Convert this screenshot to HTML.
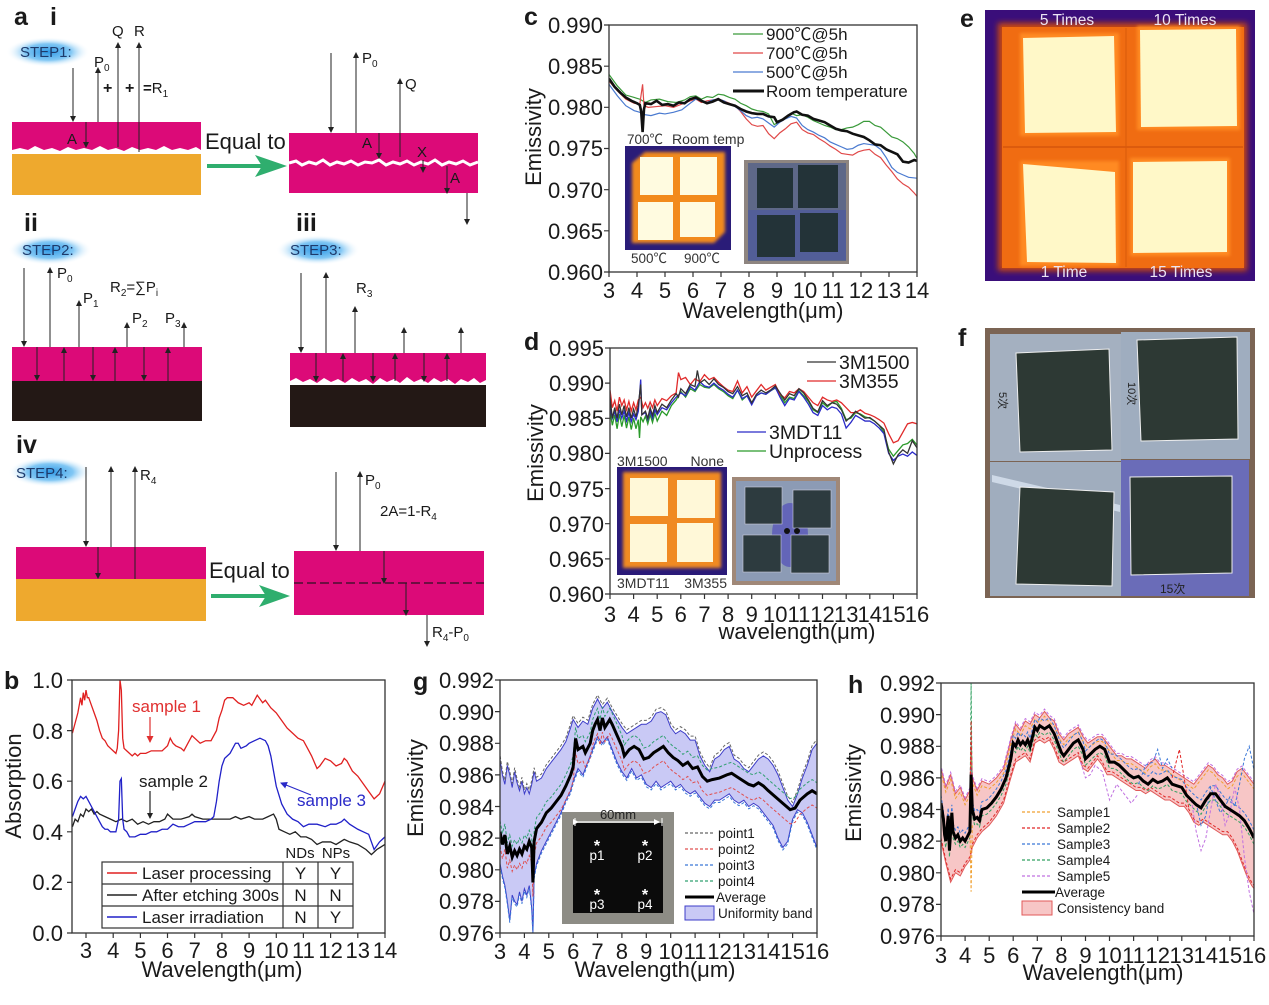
<!DOCTYPE html>
<html><head><meta charset="utf-8"><style>
html,body{margin:0;padding:0;background:#fff;}
svg{display:block;}
text{font-family:"Liberation Sans",Arial,"Noto Sans CJK SC",sans-serif;fill:#1a1a1a;}
</style></head><body>
<svg width="1269" height="1005" viewBox="0 0 1269 1005" xmlns="http://www.w3.org/2000/svg">
<defs>
<marker id="ah" markerWidth="6" markerHeight="6" refX="5" refY="3" orient="auto" markerUnits="userSpaceOnUse"><path d="M0,0 L6,3 L0,6 z" fill="#222"/></marker>
<marker id="ahR" markerWidth="7" markerHeight="7" refX="6" refY="3.5" orient="auto" markerUnits="userSpaceOnUse"><path d="M0,0 L7,3.5 L0,7 z" fill="#e03030"/></marker>
<marker id="ahB" markerWidth="7" markerHeight="7" refX="6" refY="3.5" orient="auto" markerUnits="userSpaceOnUse"><path d="M0,0 L7,3.5 L0,7 z" fill="#2a2ac8"/></marker>
<marker id="ahW" markerWidth="6" markerHeight="6" refX="5" refY="3" orient="auto" markerUnits="userSpaceOnUse"><path d="M0,0 L6,3 L0,6 z" fill="#fff"/></marker>
<radialGradient id="glow" cx="50%" cy="50%" r="50%">
<stop offset="0" stop-color="#2c98e6"/><stop offset="0.55" stop-color="#6bbdf2" stop-opacity="0.85"/><stop offset="1" stop-color="#ffffff" stop-opacity="0"/>
</radialGradient>
<filter id="bl3" x="-10%" y="-10%" width="120%" height="120%"><feGaussianBlur stdDeviation="3"/></filter>
<filter id="bl2" x="-10%" y="-10%" width="120%" height="120%"><feGaussianBlur stdDeviation="1.5"/></filter>
<clipPath id="cpg"><rect x="500" y="680" width="317" height="253"/></clipPath>
<clipPath id="cph"><rect x="941" y="683" width="313" height="253"/></clipPath>
<clipPath id="cpc"><rect x="609" y="25" width="308" height="247"/></clipPath>
<clipPath id="cpd"><rect x="610" y="348" width="307" height="246"/></clipPath>

<polyline id="gU" vector-effect="non-scaling-stroke" points="3,976 3,987 3.1,986 3.2,985.4 3.3,986.6 3.4,986.0 3.5,985.2 3.6,986.2 3.7,985.5 3.8,985.0 3.9,985.6 4.0,984.8 4.1,985.2 4.2,984.8 4.3,985.4 4.4,986.2 4.5,985.6 4.7,985.8 4.9,986.4 5.1,986.8 5.3,987.2 5.5,987.6 5.7,988.1 5.9,989.0 6.0,989.5 6.2,989.0 6.4,989.4 6.6,989.2 6.8,990.2 7.0,990.8 7.2,990.2 7.4,990.6 7.6,990.0 7.8,989.5 8.0,989.0 8.2,988.6 8.4,988.8 8.6,989.0 8.8,989.2 9.0,989.2 9.2,989.4 9.4,989.9 9.6,990.0 9.8,989.8 10.0,989.0 10.2,988.6 10.4,988.8 10.6,988.6 10.8,988.2 11.0,988.2 11.2,987.2 11.4,986.6 11.6,986.2 11.8,987.0 12.0,987.2 12.2,987.6 12.4,987.8 12.6,987.0 12.8,986.8 13.0,986.4 13.2,986.2 13.4,986.6 13.6,987.0 13.8,987.2 14.0,987.0 14.2,986.6 14.4,986.0 14.6,985.2 14.8,984.4 15.0,984.0 15.2,984.8 15.4,985.8 15.6,986.6 15.8,987.6 16,988.0 16,976"/>
<polyline id="gL" vector-effect="non-scaling-stroke" points="3,976 3,980.4 3.1,979.6 3.2,979.0 3.3,978.0 3.4,976.8 3.5,978.4 3.6,978.0 3.7,977.8 3.8,978.6 3.9,978.0 4.0,978.8 4.1,978.4 4.2,979.0 4.3,977.6 4.35,976.0 4.4,979.6 4.5,980.4 4.7,981.2 4.9,981.8 5.1,982.4 5.3,983.0 5.5,983.6 5.7,984.4 5.9,985.0 6.0,985.6 6.2,986.4 6.4,986.0 6.6,986.8 6.8,987.6 7.0,988.4 7.2,988.0 7.4,988.4 7.6,987.6 7.8,986.8 8.0,986.2 8.2,985.8 8.4,986.4 8.6,985.8 8.8,986.0 9.0,985.4 9.2,985.2 9.4,985.6 9.6,985.2 9.8,985.4 10.0,985.6 10.2,985.2 10.4,985.4 10.6,985.0 10.8,984.8 11.0,985.0 11.2,984.6 11.4,984.2 11.6,984.0 11.8,984.4 12.0,984.4 12.2,984.6 12.4,984.8 12.6,984.4 12.8,984.2 13.0,984.4 13.2,984.0 13.4,984.2 13.6,984.0 13.8,983.6 14.0,983.2 14.2,982.8 14.4,982.0 14.6,981.4 14.8,981.8 15.0,983.2 15.2,983.8 15.4,983.6 15.6,983.0 15.8,982.2 16,981.4 16,976"/>
<polyline id="gA" fill="none" vector-effect="non-scaling-stroke" points="3,982.4 3.1,981.6 3.2,982.2 3.3,981.0 3.4,981.5 3.5,980.8 3.6,981.2 3.7,980.9 3.8,981.3 3.9,981.0 4.0,981.5 4.1,981.3 4.2,981.8 4.3,981.4 4.35,979.2 4.4,981.8 4.5,982.6 4.7,983.0 4.9,983.6 5.1,983.9 5.3,984.3 5.5,984.7 5.7,985.3 5.9,986.0 6.0,986.5 6.1,988.3 6.2,987.6 6.4,987.8 6.5,987.4 6.7,988.0 6.8,988.8 6.9,989.2 7.0,989.5 7.1,988.8 7.2,989.6 7.3,989.0 7.5,989.5 7.6,989.2 7.8,988.5 8.0,987.8 8.1,987.2 8.3,987.6 8.5,987.8 8.7,987.6 8.9,987.0 9.1,987.1 9.3,987.4 9.5,987.6 9.7,987.8 9.9,987.4 10.1,987.1 10.3,986.9 10.5,986.6 10.7,986.8 10.9,986.4 11.1,986.5 11.3,985.9 11.5,985.6 11.7,985.7 12.0,985.8 12.3,986.0 12.5,986.1 12.7,985.9 13.0,985.6 13.2,985.4 13.4,985.3 13.6,985.5 13.8,985.3 14.0,985.0 14.3,984.6 14.6,984.2 14.9,983.8 15.1,983.9 15.3,984.4 15.6,984.8 15.8,985.0 16,984.8"/>

<polyline id="hU" vector-effect="non-scaling-stroke" points="3,976 3,986.6 3.2,985.4 3.4,986.2 3.6,985.0 3.8,985.4 4.0,984.6 4.2,985.2 4.25,988.0 4.3,986.0 4.5,985.2 4.7,985.8 5.0,985.6 5.3,986.0 5.6,986.6 5.9,988.4 6.1,989.4 6.3,989.0 6.5,989.6 6.7,989.4 6.9,990.0 7.1,989.8 7.3,990.2 7.5,989.8 7.7,989.6 7.9,988.8 8.1,988.4 8.3,988.8 8.5,989.0 8.7,989.2 8.9,988.6 9.1,988.2 9.3,988.4 9.5,988.6 9.7,988.6 9.9,988.2 10.1,987.8 10.3,987.4 10.5,987.4 10.7,987.2 10.9,987.2 11.1,987.0 11.3,986.8 11.5,986.6 11.7,987.0 11.9,987.2 12.1,986.8 12.3,986.8 12.5,986.6 12.7,986.4 12.9,986.2 13.1,986.0 13.3,985.8 13.5,985.6 13.7,986.0 13.9,986.4 14.1,986.8 14.3,986.6 14.5,986.2 14.7,986.0 14.9,985.6 15.1,985.8 15.3,986.4 15.5,986.6 15.7,986.2 15.9,985.8 16,985.6 16,976"/>
<polyline id="hL" vector-effect="non-scaling-stroke" points="3,976 3,982.0 3.2,980.6 3.4,979.4 3.6,980.0 3.8,979.8 4.0,980.4 4.2,980.8 4.3,981.6 4.5,982.2 4.7,982.6 5.0,983.0 5.3,983.6 5.6,984.4 5.9,986.0 6.1,987.0 6.3,987.2 6.5,987.4 6.7,987.0 6.9,988.2 7.1,988.4 7.3,988.2 7.5,988.4 7.7,987.8 7.9,987.0 8.1,986.8 8.3,987.0 8.5,987.2 8.7,987.4 8.9,986.6 9.1,986.4 9.3,986.8 9.5,987.2 9.7,986.8 9.9,986.2 10.1,986.2 10.3,986.0 10.5,985.8 10.7,985.6 10.9,985.4 11.1,985.2 11.3,985.2 11.5,985.0 11.7,985.2 11.9,985.0 12.1,984.8 12.3,984.6 12.5,984.6 12.7,984.4 12.9,984.2 13.1,984.2 13.3,983.8 13.5,983.2 13.7,983.0 13.9,983.2 14.1,983.0 14.3,982.8 14.5,982.6 14.7,982.4 14.9,982.4 15.1,982.0 15.3,981.4 15.5,980.6 15.7,979.8 15.9,979.2 16,979.0 16,976"/>
<polyline id="hA" fill="none" vector-effect="non-scaling-stroke" points="3,984.4 3.1,983.4 3.15,982.4 3.2,982.0 3.3,983.6 3.35,981.4 3.45,983.8 3.5,982.6 3.6,982.2 3.7,982.4 3.8,982.0 3.9,982.2 4.0,982.0 4.1,982.3 4.2,982.6 4.25,986.2 4.3,984.0 4.4,983.4 4.5,983.5 4.6,983.3 4.7,984.0 4.9,984.1 5.1,984.4 5.3,984.8 5.5,985.3 5.7,986.0 5.9,987.2 6.0,988.2 6.1,988.0 6.2,988.4 6.3,988.1 6.4,988.3 6.5,988.1 6.6,988.4 6.7,988.0 6.8,988.6 6.9,989.2 7.0,989.0 7.1,989.3 7.3,989.1 7.5,989.3 7.7,988.8 7.9,988.0 8.0,987.6 8.1,987.4 8.3,987.8 8.5,988.2 8.7,988.4 8.9,987.8 9.0,987.2 9.2,987.5 9.4,987.8 9.6,988.0 9.8,987.8 10.0,987.0 10.2,987.0 10.4,986.8 10.6,986.5 10.8,986.2 11.0,986.0 11.2,986.1 11.4,985.8 11.6,985.6 11.8,985.9 12.0,985.7 12.2,985.8 12.4,986.0 12.6,985.6 12.8,985.5 13.0,985.4 13.2,984.9 13.4,984.6 13.6,984.3 13.8,984.1 14.0,984.6 14.2,985.0 14.4,985.0 14.6,984.6 14.8,984.2 15.0,984.0 15.2,983.8 15.4,983.6 15.6,983.3 15.8,982.8 16,982.2"/>
</defs>

<rect width="1269" height="1005" fill="#fff"/>

<!-- ================= PANEL A ================= -->
<text x="14" y="25" font-size="25" font-weight="bold">a</text>
<text x="50" y="25" font-size="25" font-weight="bold">i</text>
<ellipse cx="48" cy="52" rx="42" ry="15" fill="url(#glow)"/>
<text x="20" y="57" font-size="15" style="fill:#1d3a6b">STEP1:</text>
<rect x="12" y="122" width="189" height="31" fill="#dc0a78"/>
<rect x="12" y="153" width="189" height="42" fill="#eea92e"/>
<polygon fill="#fff" points="12,150 20,148 28,150 35,146 44,150 52,148 60,151 68,147 76,150 84,148 92,150 100,146 108,150 116,148 124,151 132,147 140,150 148,148 156,150 164,146 172,150 180,148 188,150 196,147 201,150 201,154 12,154"/>
<g stroke="#222" stroke-width="1" fill="none" marker-end="url(#ah)">
<line x1="73" y1="68" x2="73" y2="121"/>
<line x1="98" y1="122" x2="98" y2="68"/>
<line x1="118" y1="147" x2="118" y2="43"/>
<line x1="139" y1="152" x2="139" y2="43"/>
<line x1="86" y1="122" x2="86" y2="147"/>
</g>
<text x="94" y="67" font-size="15">P<tspan font-size="10" dy="4">0</tspan></text>
<text x="112" y="36" font-size="15">Q</text>
<text x="134" y="36" font-size="15">R</text>
<text x="103" y="93" font-size="16" font-weight="bold">+</text>
<text x="125" y="93" font-size="16" font-weight="bold">+</text>
<text x="143" y="93" font-size="15"><tspan font-weight="bold">=</tspan>R<tspan font-size="10" dy="4">1</tspan></text>
<text x="67" y="144" font-size="15">A</text>
<text x="205" y="149" font-size="22">Equal to</text>
<line x1="207" y1="166" x2="262" y2="166" stroke="#2fae6e" stroke-width="4"/>
<polygon points="255,155 287,166 255,177 262,166" fill="#2fae6e"/>
<rect x="289" y="133" width="189" height="60" fill="#dc0a78"/>
<polyline fill="none" stroke="#fff" stroke-width="3" points="289,163 296,161 302,165 309,162 316,164 323,160 330,165 337,162 344,164 351,161 358,165 365,162 372,163 379,160 386,165 393,162 400,164 407,161 414,165 421,162 428,164 435,160 442,165 449,162 456,164 463,161 470,165 478,162"/>
<g stroke="#222" stroke-width="1" fill="none" marker-end="url(#ah)">
<line x1="331" y1="53" x2="331" y2="132"/>
<line x1="356" y1="133" x2="356" y2="53"/>
<line x1="400" y1="157" x2="400" y2="79"/>
<line x1="379" y1="133" x2="379" y2="158"/>
<line x1="423" y1="160" x2="423" y2="172"/>
<line x1="447" y1="166" x2="447" y2="193"/>
<line x1="467" y1="193" x2="467" y2="224"/>
</g>
<text x="362" y="63" font-size="15">P<tspan font-size="10" dy="4">0</tspan></text>
<text x="405" y="89" font-size="15">Q</text>
<text x="362" y="148" font-size="15">A</text>
<text x="417" y="157" font-size="15">X</text>
<text x="450" y="183" font-size="15">A</text>

<!-- ii -->
<text x="24" y="231" font-size="25" font-weight="bold">ii</text>
<ellipse cx="50" cy="250" rx="42" ry="15" fill="url(#glow)"/>
<text x="22" y="255" font-size="15" style="fill:#1d3a6b">STEP2:</text>
<rect x="12" y="347" width="190" height="34" fill="#dc0a78"/>
<rect x="12" y="381" width="190" height="40" fill="#231815"/>
<g stroke="#222" stroke-width="1" fill="none" marker-end="url(#ah)">
<line x1="24" y1="268" x2="24" y2="346"/>
<line x1="50" y1="347" x2="50" y2="268"/>
<line x1="79" y1="347" x2="79" y2="301"/>
<line x1="127" y1="347" x2="127" y2="323"/>
<line x1="184" y1="347" x2="184" y2="323"/>
<line x1="37" y1="347" x2="37" y2="380"/>
<line x1="64" y1="381" x2="64" y2="348"/>
<line x1="93" y1="347" x2="93" y2="380"/>
<line x1="115" y1="381" x2="115" y2="348"/>
<line x1="144" y1="347" x2="144" y2="380"/>
<line x1="168" y1="381" x2="168" y2="348"/>
</g>
<text x="57" y="278" font-size="15">P<tspan font-size="10" dy="4">0</tspan></text>
<text x="83" y="303" font-size="15">P<tspan font-size="10" dy="4">1</tspan></text>
<text x="110" y="292" font-size="15">R<tspan font-size="10" dy="4">2</tspan><tspan dy="-4">=∑P</tspan><tspan font-size="10" dy="4">i</tspan></text>
<text x="132" y="323" font-size="15">P<tspan font-size="10" dy="4">2</tspan></text>
<text x="165" y="323" font-size="15">P<tspan font-size="10" dy="4">3</tspan></text>

<!-- iii -->
<text x="296" y="231" font-size="25" font-weight="bold">iii</text>
<ellipse cx="318" cy="250" rx="42" ry="15" fill="url(#glow)"/>
<text x="290" y="255" font-size="15" style="fill:#1d3a6b">STEP3:</text>
<polygon fill="#dc0a78" points="290,353 486,353 486,380 480,383 474,378 468,382 461,379 455,384 448,379 441,382 434,378 428,383 421,379 414,382 407,377 400,383 394,379 387,382 380,378 373,384 366,379 359,382 352,378 345,383 338,379 331,382 324,378 317,383 310,379 303,382 296,378 290,381"/>
<rect x="290" y="385" width="196" height="42" fill="#231815"/>
<g stroke="#222" stroke-width="1" fill="none" marker-end="url(#ah)">
<line x1="301" y1="273" x2="301" y2="352"/>
<line x1="326" y1="353" x2="326" y2="273"/>
<line x1="355" y1="353" x2="355" y2="307"/>
<line x1="404" y1="353" x2="404" y2="328"/>
<line x1="461" y1="353" x2="461" y2="328"/>
<line x1="316" y1="353" x2="316" y2="381"/>
<line x1="343" y1="381" x2="343" y2="354"/>
<line x1="373" y1="353" x2="373" y2="381"/>
<line x1="395" y1="381" x2="395" y2="354"/>
<line x1="424" y1="353" x2="424" y2="381"/>
<line x1="447" y1="381" x2="447" y2="354"/>
</g>
<text x="356" y="293" font-size="15">R<tspan font-size="10" dy="4">3</tspan></text>

<!-- iv -->
<text x="16" y="453" font-size="25" font-weight="bold">iv</text>
<ellipse cx="50" cy="472" rx="42" ry="15" fill="url(#glow)"/>
<text x="16" y="478" font-size="15" style="fill:#1d3a6b">STEP4:</text>
<rect x="16" y="547" width="190" height="32" fill="#dc0a78"/>
<rect x="16" y="579" width="190" height="42" fill="#eea92e"/>
<g stroke="#222" stroke-width="1" fill="none" marker-end="url(#ah)">
<line x1="86" y1="467" x2="86" y2="546"/>
<line x1="111" y1="547" x2="111" y2="467"/>
<line x1="135" y1="579" x2="135" y2="467"/>
<line x1="98" y1="547" x2="98" y2="578"/>
</g>
<text x="140" y="480" font-size="15">R<tspan font-size="10" dy="4">4</tspan></text>
<text x="209" y="578" font-size="22">Equal to</text>
<line x1="211" y1="596" x2="266" y2="596" stroke="#2fae6e" stroke-width="4"/>
<polygon points="259,585 290,596 259,607 266,596" fill="#2fae6e"/>
<rect x="294" y="551" width="190" height="64" fill="#dc0a78"/>
<line x1="294" y1="583" x2="484" y2="583" stroke="#4a1030" stroke-width="1.5" stroke-dasharray="9,4"/>
<g stroke="#222" stroke-width="1" fill="none" marker-end="url(#ah)">
<line x1="336" y1="472" x2="336" y2="550"/>
<line x1="360" y1="551" x2="360" y2="472"/>
<line x1="384" y1="551" x2="384" y2="583"/>
<line x1="406" y1="583" x2="406" y2="615"/>
<line x1="427" y1="615" x2="427" y2="646"/>
</g>
<text x="365" y="485" font-size="15">P<tspan font-size="10" dy="4">0</tspan></text>
<text x="380" y="516" font-size="15">2A=1-R<tspan font-size="10" dy="4">4</tspan></text>
<text x="432" y="637" font-size="15">R<tspan font-size="10" dy="4">4</tspan><tspan dy="-4">-P</tspan><tspan font-size="10" dy="4">0</tspan></text>

<!-- ================= PANEL C ================= -->
<text x="524" y="25" font-size="25" font-weight="bold">c</text>
<g clip-path="url(#cpc)">
<g transform="matrix(28 0 0 -8.2333 525 8176)" fill="none">
<polyline vector-effect="non-scaling-stroke" stroke="#3a9a3a" stroke-width="1.2" points="3,984 3.3,982.6 3.6,981.5 3.9,981.2 4.1,981.0 4.3,980.6 4.5,980.9 4.8,981.0 5.1,980.7 5.4,980.6 5.7,980.9 5.9,981.3 6.1,981.4 6.3,981.0 6.5,981.3 6.7,981.2 6.9,981.6 7.1,981.5 7.3,981.2 7.5,981.0 7.7,980.5 7.9,980.2 8.1,979.8 8.3,979.6 8.5,979.5 8.7,979.2 8.9,977.9 9.1,978.3 9.3,978.8 9.5,979.3 9.7,979.0 9.9,979.1 10.1,978.8 10.3,978.4 10.5,978.1 10.7,977.8 10.9,977.6 11.1,977.3 11.3,977.3 11.5,977.5 11.7,977.6 11.9,977.9 12.1,978.3 12.3,978.3 12.5,977.8 12.7,977.6 12.9,977.0 13.1,976.4 13.3,976.2 13.5,975.8 13.7,975.2 13.9,974.4 14,973.8"/>
<polyline vector-effect="non-scaling-stroke" stroke="#e04848" stroke-width="1.2" points="3,983.2 3.3,982.0 3.6,981.0 3.9,980.5 4.1,980.4 4.2,982.8 4.25,980.2 4.4,980.0 4.7,980.1 5.0,980.2 5.3,980.0 5.6,980.4 5.9,980.8 6.1,981.0 6.3,980.6 6.5,980.8 6.7,980.9 6.9,981.0 7.1,980.8 7.3,980.5 7.5,980.2 7.7,979.5 7.9,978.6 8.1,977.9 8.3,977.7 8.5,977.8 8.7,976.8 8.9,976.2 9.1,976.9 9.3,977.4 9.5,978.0 9.7,978.2 9.9,977.3 10.1,976.9 10.3,976.7 10.5,976.2 10.7,975.8 10.9,975.3 11.1,974.9 11.3,974.4 11.5,974.3 11.7,974.2 11.9,974.6 12.1,974.8 12.3,974.9 12.5,974.3 12.7,973.9 12.9,973.0 13.1,972.2 13.3,971.3 13.5,970.7 13.7,970.3 13.9,969.6 14,969.2"/>
<polyline vector-effect="non-scaling-stroke" stroke="#4a7ad0" stroke-width="1.2" points="3,982.8 3.3,981.4 3.6,980.2 3.9,979.6 4.1,979.4 4.3,979.1 4.5,979.0 4.8,979.3 5.0,979.2 5.3,979.4 5.6,979.7 5.9,980.5 6.1,981.0 6.3,980.8 6.5,980.6 6.7,980.9 6.9,981.0 7.1,980.8 7.3,980.4 7.5,980.1 7.7,979.6 7.9,979.0 8.1,978.7 8.3,978.8 8.5,978.6 8.7,978.1 8.9,977.6 9.1,978.2 9.3,978.6 9.5,978.9 9.7,978.7 9.9,977.8 10.1,977.3 10.3,977.0 10.5,976.6 10.7,976.3 10.9,975.8 11.1,975.5 11.3,975.2 11.5,974.9 11.7,975.0 11.9,975.4 12.1,975.6 12.3,975.5 12.5,975.4 12.7,974.9 12.9,973.9 13.1,972.7 13.3,972.1 13.5,971.8 13.7,971.5 14,971.4"/>
<polyline vector-effect="non-scaling-stroke" stroke="#111" stroke-width="2.6" points="3,983.5 3.2,982.5 3.4,981.8 3.6,981.2 3.8,980.8 4.0,980.5 4.1,980.3 4.15,979.5 4.2,977.0 4.25,979.8 4.3,980.5 4.5,980.4 4.7,980.8 4.9,980.3 5.1,980.4 5.3,980.2 5.5,980.6 5.7,980.5 5.9,981.0 6.1,981.2 6.3,980.8 6.5,980.5 6.7,980.7 6.9,981.0 7.1,980.6 7.3,980.4 7.5,980.2 7.7,979.8 7.9,979.5 8.1,979.3 8.3,979.2 8.5,979.2 8.7,978.9 8.9,978.8 9.0,978.2 9.2,978.5 9.4,979.0 9.6,979.4 9.7,979.5 9.9,979.1 10.1,979.0 10.3,978.6 10.5,978.4 10.7,978.2 10.9,977.8 11.1,977.4 11.3,977.2 11.5,977.1 11.7,976.8 11.9,976.6 12.1,976.4 12.3,976.0 12.5,975.5 12.7,975.4 12.9,974.9 13.1,974.6 13.3,974.3 13.5,973.4 13.7,973.3 13.9,973.6 14,973.5"/>
</g>
</g>
<!-- c insets -->
<rect x="625" y="146" width="106" height="104" fill="#2a1c78"/>
<polygon points="645,152 725,152 725,232 714,243 632,243 632,163" fill="#f28a1e" filter="url(#bl2)"/>
<rect x="640" y="157" width="33" height="38" fill="#fffbe0"/>
<rect x="680" y="157" width="37" height="38" fill="#fffbe0"/>
<rect x="638" y="202" width="35" height="38" fill="#fffbe0"/>
<rect x="680" y="202" width="35" height="35" fill="#fffbe0"/>
<text x="627" y="144" font-size="13.5" style="fill:#333">700℃</text>
<text x="672" y="144" font-size="14" style="fill:#333">Room temp</text>
<text x="631" y="263" font-size="13.5" style="fill:#333">500℃</text>
<text x="684" y="263" font-size="13.5" style="fill:#333">900℃</text>
<rect x="744" y="160" width="105" height="104" fill="#8e8580"/>
<rect x="748" y="163" width="98" height="98" fill="#5e6888"/>
<rect x="748" y="210" width="98" height="50" fill="#4d5aa0" opacity="0.7"/>
<rect x="757" y="168" width="36" height="40" fill="#233338"/>
<rect x="798" y="165" width="40" height="43" fill="#233338"/>
<rect x="757" y="215" width="38" height="42" fill="#233338"/>
<rect x="800" y="213" width="38" height="39" fill="#233338"/>
<!-- c legend -->
<g stroke-width="1.3">
<line x1="733" y1="34" x2="763" y2="34" stroke="#3a9a3a"/>
<line x1="733" y1="53" x2="763" y2="53" stroke="#e04848"/>
<line x1="733" y1="72" x2="763" y2="72" stroke="#4a7ad0"/>
<line x1="733" y1="91" x2="764" y2="91" stroke="#111" stroke-width="3"/>
</g>
<g font-size="17">
<text x="766" y="40">900℃@5h</text>
<text x="766" y="59">700℃@5h</text>
<text x="766" y="78">500℃@5h</text>
<text x="766" y="97">Room temperature</text>
</g>
<!-- c axes -->
<rect x="609" y="25" width="308" height="247" fill="none" stroke="#333" stroke-width="1.3"/>
<g stroke="#333" stroke-width="1.2">
<path d="M604,25H609M604,66.2H609M604,107.3H609M604,148.5H609M604,189.7H609M604,230.8H609M604,272H609"/>
<path d="M609,272V277M637,272V277M665,272V277M693,272V277M721,272V277M749,272V277M777,272V277M805,272V277M833,272V277M861,272V277M889,272V277M917,272V277"/>
</g>
<g font-size="22" text-anchor="end">
<text x="603" y="33">0.990</text><text x="603" y="74">0.985</text><text x="603" y="115">0.980</text><text x="603" y="156">0.975</text><text x="603" y="198">0.970</text><text x="603" y="239">0.965</text><text x="603" y="280">0.960</text>
</g>
<g font-size="22" text-anchor="middle">
<text x="609" y="298">3</text><text x="637" y="298">4</text><text x="665" y="298">5</text><text x="693" y="298">6</text><text x="721" y="298">7</text><text x="749" y="298">8</text><text x="777" y="298">9</text><text x="805" y="298">10</text><text x="833" y="298">11</text><text x="861" y="298">12</text><text x="889" y="298">13</text><text x="917" y="298">14</text>
<text x="763" y="318">Wavelength(μm)</text>
<text transform="translate(541,137) rotate(-90)">Emissivity</text>
</g>

<!-- ================= PANEL D ================= -->
<text x="524" y="350" font-size="25" font-weight="bold">d</text>
<g clip-path="url(#cpd)">
<g transform="matrix(23.615 0 0 -7.0286 539.15 7341.4)" fill="none" stroke-width="1.3">
<polyline vector-effect="non-scaling-stroke" stroke="#2a9a2a" points="3,986 3.1,984 3.2,985.5 3.3,983.5 3.4,985.6 3.5,983.8 3.6,985.4 3.7,983.6 3.8,985.2 3.9,983.4 4.0,985 4.1,983.5 4.2,984.8 4.25,982.2 4.3,985.2 4.4,984.5 4.5,985.3 4.6,984.2 4.7,985.5 4.8,984.4 4.9,985.7 5.0,984.6 5.2,986 5.4,985.4 5.6,986.8 5.8,987.6 6.0,988.8 6.2,988 6.4,989.2 6.6,988.8 6.8,989.8 7.0,989.4 7.2,989.3 7.4,989.8 7.6,989.2 7.8,988.8 8.0,988.2 8.2,987.8 8.4,989.0 8.6,987.6 8.8,988.2 9.0,987.2 9.2,988.2 9.4,988.6 9.6,988.4 9.8,988.9 10.0,989.3 10.2,988.3 10.4,987.2 10.6,988.0 10.8,987.8 11.0,988.9 11.2,988.2 11.4,987.4 11.6,986.2 11.8,985.8 12.0,987.2 12.2,986.6 12.4,987.2 12.6,987.4 12.8,986.4 13.0,984.8 13.2,985.0 13.4,985.8 13.6,985.6 13.8,985.2 14.0,985.0 14.2,984.6 14.4,984.0 14.6,983.0 14.8,980.6 15.0,979.6 15.2,980.4 15.4,981.2 15.6,981.4 15.8,982.0 16,981.2"/>
<polyline vector-effect="non-scaling-stroke" stroke="#2a2ac8" points="3,986.5 3.1,985 3.2,986 3.3,984.5 3.4,986.2 3.5,985 3.6,986 3.7,984.6 3.8,985.8 3.9,984.5 4.0,985.6 4.1,984.8 4.2,986 4.3,990.5 4.35,985.5 4.5,985.8 4.6,984.8 4.7,986 4.8,985 4.9,986.2 5.0,985.5 5.2,986.5 5.4,986.2 5.6,987.2 5.8,988 6.0,988.6 6.2,988.2 6.4,989.5 6.6,989 6.8,990.2 7.0,989.6 7.2,989.4 7.4,990 7.6,989.4 7.8,989 8.0,988.4 8.2,988 8.4,989 8.6,987.8 8.8,988.2 9.0,986.9 9.2,988.2 9.4,988.6 9.6,988.4 9.8,988.9 10.0,989.4 10.2,988.0 10.4,986.8 10.6,987.8 10.8,987.6 11.0,988.8 11.2,988.0 11.4,987.0 11.6,985.8 11.8,985.4 12.0,986.8 12.2,986.2 12.4,986.6 12.6,986.4 12.8,985.6 13.0,983.6 13.2,984.4 13.4,985.4 13.6,985.0 13.8,984.6 14.0,984.6 14.2,984.2 14.4,983.6 14.6,982.8 14.8,980.0 15.0,979.0 15.2,979.6 15.4,979.9 15.6,979.6 15.8,980.2 16,979.7"/>
<polyline vector-effect="non-scaling-stroke" stroke="#e02a2a" points="3,989 3.1,986.5 3.2,987.5 3.3,986 3.4,988 3.5,986.8 3.6,987.6 3.7,986.2 3.8,987.4 3.9,986 4.0,987.2 4.1,986.2 4.2,987.6 4.3,988 4.4,986.5 4.5,987.2 4.6,986.4 4.7,987.3 4.8,986.5 4.9,987.6 5.0,986.8 5.2,987.8 5.4,987.5 5.6,988.2 5.8,988.6 5.9,991.5 6.0,990.5 6.2,990.8 6.4,989.8 6.6,990.6 6.8,990.2 7.0,991.2 7.2,990.5 7.4,990.8 7.6,990.1 7.8,989.5 8.0,989.0 8.2,988.8 8.4,990.3 8.6,988.6 8.8,989.5 9.0,988 9.2,988.9 9.4,989.8 9.6,989.0 9.8,989.4 10.0,989.8 10.2,988.4 10.4,987.9 10.6,988.8 10.8,988.6 11.0,989.2 11.2,988.8 11.4,988.0 11.6,987.2 11.8,986.8 12.0,988.0 12.2,987.6 12.4,987.4 12.6,987.6 12.8,987.2 13.0,986.5 13.2,985.8 13.4,985.8 13.6,986.2 13.8,985.7 14.0,985.5 14.2,985.2 14.4,984.8 14.6,984.3 14.8,982.8 15.0,981.5 15.2,981.8 15.4,983.0 15.6,984.2 15.8,984.4 16,984.2"/>
<polyline vector-effect="non-scaling-stroke" stroke="#333" points="3,988 3.1,985 3.2,986.5 3.3,985 3.4,987 3.5,985.5 3.6,986.8 3.7,985.2 3.8,986.5 3.9,985 4.0,986.3 4.1,985.2 4.2,986.8 4.3,989.8 4.35,985.5 4.5,986 4.6,985 4.7,986.5 4.8,985.4 4.9,986.8 5.0,985.8 5.2,987 5.4,986.5 5.6,987.6 5.8,988.5 5.9,988 6.0,989.2 6.2,988.5 6.4,989.8 6.6,989.5 6.7,991.8 6.8,990 7.0,990.5 7.2,989.8 7.4,990.6 7.6,989.8 7.8,989.4 8.0,988.8 8.2,988.5 8.4,989.5 8.6,988.2 8.8,988.6 9.0,987.2 9.2,988.4 9.4,989.0 9.6,988.6 9.8,989.0 10.0,989.6 10.2,988.6 10.4,987.6 10.6,988.5 10.8,988.2 11.0,989.2 11.2,988.6 11.4,987.6 11.6,986.4 11.8,985.9 12.0,987.5 12.2,986.8 12.4,987.2 12.6,987.0 12.8,986.2 13.0,984.6 13.2,985.2 13.4,986.0 13.6,985.5 13.8,985.0 14.0,985.1 14.2,984.6 14.4,984.0 14.6,983.4 14.8,980.2 15.0,978.5 15.2,979.8 15.4,980.5 15.6,980.0 15.8,981.8 16,980.8"/>
</g>
</g>
<!-- d insets -->
<rect x="617" y="467" width="110" height="108" fill="#2a1a78"/>
<rect x="623" y="472" width="98" height="96" fill="#f08a20" filter="url(#bl2)"/>
<rect x="630" y="478" width="38" height="38" fill="#fff8d8"/>
<rect x="677" y="480" width="38" height="38" fill="#fff8d8"/>
<rect x="630" y="524" width="37" height="38" fill="#fff8d8"/>
<rect x="677" y="523" width="36" height="39" fill="#fff8d8"/>
<text x="617" y="466" font-size="14" style="fill:#333">3M1500</text>
<text x="724" y="466" font-size="14" text-anchor="end" style="fill:#333">None</text>
<text x="617" y="588" font-size="14" style="fill:#333">3MDT11</text>
<text x="727" y="588" font-size="14" text-anchor="end" style="fill:#333">3M355</text>
<rect x="732" y="477" width="108" height="108" fill="#a08878"/>
<rect x="736" y="481" width="100" height="100" fill="#8c9bb5"/>
<ellipse cx="790" cy="535" rx="18" ry="32" fill="#5c5cb8" opacity="0.85"/>
<rect x="745" y="487" width="37" height="37" fill="#2d3b3f" stroke="#ccd" stroke-width="0.6"/>
<rect x="793" y="490" width="38" height="38" fill="#2d3b3f" stroke="#ccd" stroke-width="0.6"/>
<rect x="743" y="535" width="38" height="37" fill="#2d3b3f" stroke="#ccd" stroke-width="0.6"/>
<rect x="791" y="535" width="38" height="38" fill="#2d3b3f" stroke="#ccd" stroke-width="0.6"/>
<circle cx="787" cy="531" r="3" fill="#111"/><circle cx="797" cy="531" r="3" fill="#111"/>
<!-- d legend -->
<g stroke-width="1.3">
<line x1="807" y1="362" x2="836" y2="362" stroke="#333"/>
<line x1="807" y1="381" x2="836" y2="381" stroke="#e02a2a"/>
<line x1="737" y1="432" x2="766" y2="432" stroke="#2a2ac8"/>
<line x1="737" y1="451" x2="766" y2="451" stroke="#2a9a2a"/>
</g>
<g font-size="19.5">
<text x="839" y="369">3M1500</text>
<text x="839" y="388">3M355</text>
<text x="769" y="439">3MDT11</text>
<text x="769" y="458">Unprocess</text>
</g>
<rect x="610" y="348" width="307" height="246" fill="none" stroke="#333" stroke-width="1.3"/>
<g stroke="#333" stroke-width="1.2">
<path d="M605,348H610M605,383.1H610M605,418.3H610M605,453.4H610M605,488.6H610M605,523.7H610M605,558.9H610M605,594H610"/>
<path d="M610,594V599M633.6,594V599M657.2,594V599M680.8,594V599M704.5,594V599M728.1,594V599M751.7,594V599M775.3,594V599M798.9,594V599M822.5,594V599M846.2,594V599M869.8,594V599M893.4,594V599M917,594V599"/>
</g>
<g font-size="22" text-anchor="end">
<text x="604" y="356">0.995</text><text x="604" y="391">0.990</text><text x="604" y="426">0.985</text><text x="604" y="461">0.980</text><text x="604" y="497">0.975</text><text x="604" y="532">0.970</text><text x="604" y="567">0.965</text><text x="604" y="602">0.960</text>
</g>
<g font-size="22" text-anchor="middle">
<text x="610" y="622">3</text><text x="633.6" y="622">4</text><text x="657.2" y="622">5</text><text x="680.8" y="622">6</text><text x="704.5" y="622">7</text><text x="728.1" y="622">8</text><text x="751.7" y="622">9</text><text x="775.3" y="622">10</text><text x="798.9" y="622">11</text><text x="822.5" y="622">12</text><text x="846.2" y="622">13</text><text x="869.8" y="622">14</text><text x="893.4" y="622">15</text><text x="917" y="622">16</text>
<text x="797" y="639">wavelength(μm)</text>
<text transform="translate(543,453) rotate(-90)">Emissivity</text>
</g>

<!-- ================= PANEL E ================= -->
<text x="960" y="27" font-size="25" font-weight="bold">e</text>
<rect x="985" y="10" width="270" height="271" fill="#3a0e7a"/>
<rect x="998" y="23" width="249" height="248" fill="#c8480c" filter="url(#bl3)"/>
<rect x="1002" y="27" width="242" height="241" fill="#f06c12"/>
<g fill="#ff8a22" filter="url(#bl2)">
<rect x="1020" y="33" width="99" height="103"/>
<rect x="1137" y="26" width="103" height="104"/>
<rect x="1020" y="161" width="99" height="105"/>
<rect x="1130" y="158" width="100" height="98"/>
</g>
<g fill="#fff8c8">
<polygon points="1023,38 1114,36 1116,132 1025,133"/>
<polygon points="1140,30 1236,29 1237,126 1141,127"/>
<polygon points="1023,164 1115,172 1116,263 1027,262"/>
<polygon points="1133,162 1227,161 1227,252 1133,253"/>
</g>
<line x1="1003" y1="147" x2="1243" y2="147" stroke="#c84a08" stroke-width="1"/>
<line x1="1126" y1="28" x2="1126" y2="267" stroke="#d85a0a" stroke-width="1"/>
<g font-size="15.5" text-anchor="middle">
<text x="1067" y="25" style="fill:#ece4f4">5 Times</text>
<text x="1185" y="25" style="fill:#ece4f4">10 Times</text>
<text x="1064" y="277" style="fill:#ece4f4">1 Time</text>
<text x="1181" y="277" style="fill:#ece4f4">15 Times</text>
</g>

<!-- ================= PANEL F ================= -->
<text x="958" y="346" font-size="25" font-weight="bold">f</text>
<rect x="985" y="328" width="270" height="270" fill="#7b6454"/>
<rect x="990" y="334" width="131" height="127" fill="#a4b0c0"/>
<rect x="1121" y="332" width="129" height="127" fill="#9fadbf"/>
<rect x="990" y="462" width="131" height="134" fill="#a0adbe"/>
<rect x="1121" y="460" width="128" height="136" fill="#6a6cb8"/>
<polygon points="992,475 1120,505 1120,512 992,482" fill="#dde8f4" opacity="0.75"/>
<g fill="#2d3934" stroke="#eeeeee" stroke-width="1">
<polygon points="1016,353 1109,349 1112,450 1020,452"/>
<polygon points="1137,340 1237,337 1238,439 1141,441"/>
<polygon points="1020,487 1114,492 1112,586 1016,584"/>
<polygon points="1130,477 1232,476 1232,573 1131,575"/>
</g>
<text x="1160" y="593" font-size="12" style="fill:#222">15次</text>
<text transform="translate(999,392) rotate(90)" font-size="11" style="fill:#222">5次</text>
<text transform="translate(1128,382) rotate(90)" font-size="11" style="fill:#222">10次</text>

<!-- ================= PANEL B ================= -->
<text x="4" y="689" font-size="25" font-weight="bold">b</text>
<g transform="matrix(27.18 0 0 -2.53 4.46 933)" fill="none" stroke-width="1.3">
<polyline vector-effect="non-scaling-stroke" stroke="#222" points="2.5,42 2.6,45 2.7,44 2.8,47 2.9,46 3.0,49 3.1,48 3.2,49 3.3,47 3.4,48 3.5,47 3.7,46 3.9,45 4.1,44 4.3,45 4.5,44 4.7,45 4.9,43 5.1,44 5.3,43 5.5,44 5.7,44 5.9,45 6.0,47 6.1,46 6.2,45 6.5,45 6.8,46 6.9,47 7.0,46 7.3,45 7.6,45 8.0,45 8.3,45 8.5,46 8.7,45 9.0,46 9.2,45 9.5,45 9.7,46 9.9,47 10.0,45 10.1,41 10.3,40 10.5,39 10.7,40 10.9,38 11.1,38 11.3,37 11.5,35 11.7,36 12.0,36 12.2,35 12.5,37 12.7,36 13.0,35 13.3,33 13.5,31 13.7,33 14.0,35"/>
<polyline vector-effect="non-scaling-stroke" stroke="#2020c8" points="2.5,46 2.6,49 2.7,52 2.8,54 2.9,53 3.0,54 3.1,52 3.2,50 3.3,48 3.4,46 3.5,44 3.6,42 3.7,41 3.8,41 3.9,40 4.0,40 4.1,40 4.2,45 4.25,60 4.3,61 4.35,45 4.4,41 4.5,40 4.6,38 4.8,38 5.0,39 5.2,39 5.4,40 5.6,40 5.8,41 6.0,41 6.2,43 6.4,42 6.6,42 6.8,43 7.0,44 7.2,44 7.4,44 7.6,45 7.7,46 7.8,52 7.9,60 8.0,66 8.1,69 8.3,71 8.5,75 8.6,75 8.7,73 8.9,74 9.0,75 9.2,76 9.4,77 9.6,76 9.7,74 9.8,70 9.9,64 10.0,58 10.2,51 10.4,47 10.6,45 10.8,44 11.0,42 11.2,43 11.5,43 11.8,42 12.0,43 12.2,43 12.4,44 12.5,45 12.7,43 13.0,41 13.2,40 13.4,39 13.6,33 13.8,36 14.0,38"/>
<polyline vector-effect="non-scaling-stroke" stroke="#e02020" points="2.5,79 2.6,83 2.7,87 2.8,93 2.85,90 2.9,95 2.95,92 3.0,96 3.05,93 3.1,93 3.2,90 3.3,87 3.4,84 3.5,80 3.6,77 3.7,76 3.8,74 3.9,73 4.0,72 4.1,71 4.15,73 4.2,80 4.25,100 4.3,96 4.35,77 4.4,73 4.5,72 4.6,71 4.7,70 4.8,71 4.9,70 5.0,71 5.2,71 5.4,72 5.6,72 5.8,72 5.9,73 6.0,74 6.1,77 6.2,75 6.3,74 6.5,73 6.6,72 6.8,76 6.9,78 7.0,77 7.2,75 7.4,76 7.6,76 7.8,80 7.9,85 8.0,88 8.1,92 8.2,93 8.4,93 8.6,91 8.8,90 9.0,91 9.1,90 9.3,94 9.5,91 9.6,92 9.8,89 10.0,87 10.2,84 10.4,81 10.6,79 10.8,77 11.0,76 11.2,72 11.3,70 11.5,65 11.6,66 11.8,69 12.0,68 12.2,66 12.4,67 12.5,69 12.6,68 12.8,64 13.0,62 13.2,59 13.4,56 13.6,53 13.8,55 14.0,60"/>
</g>
<text x="132" y="712" font-size="17" style="fill:#e03030">sample 1</text>
<line x1="150" y1="717" x2="150" y2="742" stroke="#e03030" stroke-width="1.2" marker-end="url(#ahR)"/>
<text x="139" y="787" font-size="17">sample 2</text>
<line x1="150" y1="791" x2="150" y2="818" stroke="#222" stroke-width="1.2" marker-end="url(#ah)"/>
<text x="297" y="806" font-size="17" style="fill:#2a2ac8">sample 3</text>
<line x1="311" y1="795" x2="281" y2="783" stroke="#2a2ac8" stroke-width="1.2" marker-end="url(#ahB)"/>
<!-- table -->
<rect x="102" y="862" width="251" height="66" fill="#fff" stroke="#333" stroke-width="1.2"/>
<path d="M102,884H353M102,906H353M283,862V928M318,862V928" stroke="#333" stroke-width="1.2"/>
<line x1="107" y1="873" x2="137" y2="873" stroke="#e02020" stroke-width="1.5"/>
<line x1="107" y1="895" x2="137" y2="895" stroke="#222" stroke-width="1.5"/>
<line x1="107" y1="917" x2="137" y2="917" stroke="#2020c8" stroke-width="1.5"/>
<g font-size="17">
<text x="142" y="879">Laser processing</text>
<text x="142" y="901">After etching 300s</text>
<text x="142" y="923">Laser irradiation</text>
</g>
<g font-size="17" text-anchor="middle">
<text x="300.5" y="879">Y</text><text x="335.5" y="879">Y</text>
<text x="300.5" y="901">N</text><text x="335.5" y="901">N</text>
<text x="300.5" y="923">N</text><text x="335.5" y="923">Y</text>
</g>
<text x="300" y="858" font-size="15" text-anchor="middle">NDs</text>
<text x="336" y="858" font-size="15" text-anchor="middle">NPs</text>
<rect x="72" y="680" width="313" height="253" fill="none" stroke="#333" stroke-width="1.3"/>
<g stroke="#333" stroke-width="1.2">
<path d="M67,933H72M67,882.4H72M67,831.8H72M67,781.2H72M67,730.6H72M67,680H72"/>
<path d="M86,933V938M113.2,933V938M140.4,933V938M167.5,933V938M194.7,933V938M221.9,933V938M249.1,933V938M276.3,933V938M303.4,933V938M330.6,933V938M357.8,933V938M385,933V938"/>
</g>
<g font-size="22" text-anchor="end">
<text x="63" y="941">0.0</text><text x="63" y="890">0.2</text><text x="63" y="840">0.4</text><text x="63" y="789">0.6</text><text x="63" y="739">0.8</text><text x="63" y="688">1.0</text>
</g>
<g font-size="22" text-anchor="middle">
<text x="86" y="958">3</text><text x="113.2" y="958">4</text><text x="140.4" y="958">5</text><text x="167.5" y="958">6</text><text x="194.7" y="958">7</text><text x="221.9" y="958">8</text><text x="249.1" y="958">9</text><text x="276.3" y="958">10</text><text x="303.4" y="958">11</text><text x="330.6" y="958">12</text><text x="357.8" y="958">13</text><text x="385" y="958">14</text>
<text x="222" y="977">Wavelength(μm)</text>
<text transform="translate(21,786) rotate(-90)">Absorption</text>
</g>

<!-- ================= PANEL G ================= -->
<text x="413" y="690" font-size="25" font-weight="bold">g</text>
<g clip-path="url(#cpg)">
<g transform="matrix(24.385 0 0 -15.8125 426.845 16366)">
<use href="#gU" fill="#c9c9f5" stroke="none"/>
<use href="#gL" fill="#ffffff" stroke="none"/>
<use href="#gU" fill="none" stroke="#3c3cc8" stroke-width="1"/>
<use href="#gL" fill="none" stroke="#3c3cc8" stroke-width="1"/>
<use href="#gU" fill="none" stroke="#666" stroke-width="1" stroke-dasharray="3,2" transform="translate(0,0.25)"/>
<use href="#gL" fill="none" stroke="#3a78d8" stroke-width="1" stroke-dasharray="3,2" transform="translate(0,-0.15)"/>
<use href="#gA" fill="none" stroke="#e05050" stroke-width="1" stroke-dasharray="3,2" transform="translate(0,-0.9)"/>
<use href="#gA" fill="none" stroke="#30a070" stroke-width="1" stroke-dasharray="3,2" transform="translate(0,0.7)"/>
<use href="#gA" fill="none" stroke="#000" stroke-width="3"/>
</g>
</g>
<rect x="562" y="812" width="112" height="112" fill="#8d8c85"/>
<rect x="573" y="823" width="90" height="90" fill="#0b0b0b"/>
<line x1="578" y1="822" x2="659" y2="822" stroke="#fff" stroke-width="1.2" marker-end="url(#ahW)" marker-start="url(#ahW)"/>
<line x1="575" y1="818" x2="575" y2="826" stroke="#fff" stroke-width="1"/>
<line x1="662" y1="818" x2="662" y2="826" stroke="#fff" stroke-width="1"/>
<text x="618" y="819" font-size="13" text-anchor="middle" style="fill:#222">60mm</text>
<g font-size="16" font-weight="bold" text-anchor="middle">
<text x="597" y="851" style="fill:#fff">*</text><text x="645" y="851" style="fill:#fff">*</text>
<text x="597" y="900" style="fill:#fff">*</text><text x="645" y="900" style="fill:#fff">*</text>
</g>
<g font-size="13.5" text-anchor="middle">
<text x="597" y="860" style="fill:#fff">p1</text><text x="645" y="860" style="fill:#fff">p2</text>
<text x="597" y="909" style="fill:#fff">p3</text><text x="645" y="909" style="fill:#fff">p4</text>
</g>
<g stroke-width="1.2" stroke-dasharray="3,2">
<line x1="685" y1="833" x2="713" y2="833" stroke="#666"/>
<line x1="685" y1="849" x2="713" y2="849" stroke="#e05050"/>
<line x1="685" y1="865" x2="713" y2="865" stroke="#3a78d8"/>
<line x1="685" y1="881" x2="713" y2="881" stroke="#30a070"/>
</g>
<line x1="685" y1="897" x2="714" y2="897" stroke="#000" stroke-width="3"/>
<rect x="685" y="906" width="29" height="14" fill="#c9c9f5" stroke="#3c3cc8" stroke-width="1"/>
<g font-size="13.5">
<text x="718" y="838">point1</text><text x="718" y="854">point2</text><text x="718" y="870">point3</text><text x="718" y="886">point4</text><text x="716" y="902">Average</text><text x="718" y="918">Uniformity band</text>
</g>
<rect x="500" y="680" width="317" height="253" fill="none" stroke="#333" stroke-width="1.3"/>
<g stroke="#333" stroke-width="1.2">
<path d="M495,680H500M495,711.6H500M495,743.3H500M495,774.9H500M495,806.5H500M495,838.1H500M495,869.8H500M495,901.4H500M495,933H500"/>
<path d="M500,933V938M524.4,933V938M548.8,933V938M573.2,933V938M597.5,933V938M621.9,933V938M646.3,933V938M670.7,933V938M695.1,933V938M719.5,933V938M743.8,933V938M768.2,933V938M792.6,933V938M817,933V938"/>
</g>
<g font-size="22" text-anchor="end">
<text x="494" y="688">0.992</text><text x="494" y="720">0.990</text><text x="494" y="751">0.988</text><text x="494" y="783">0.986</text><text x="494" y="815">0.984</text><text x="494" y="846">0.982</text><text x="494" y="878">0.980</text><text x="494" y="909">0.978</text><text x="494" y="941">0.976</text>
</g>
<g font-size="22" text-anchor="middle">
<text x="500" y="959">3</text><text x="524.4" y="959">4</text><text x="548.8" y="959">5</text><text x="573.2" y="959">6</text><text x="597.5" y="959">7</text><text x="621.9" y="959">8</text><text x="646.3" y="959">9</text><text x="670.7" y="959">10</text><text x="695.1" y="959">11</text><text x="719.5" y="959">12</text><text x="743.8" y="959">13</text><text x="768.2" y="959">14</text><text x="792.6" y="959">15</text><text x="817" y="959">16</text>
<text x="655" y="977">Wavelength(μm)</text>
<text transform="translate(423,788) rotate(-90)">Emissivity</text>
</g>

<!-- ================= PANEL H ================= -->
<text x="848" y="693" font-size="25" font-weight="bold">h</text>
<g clip-path="url(#cph)">
<g transform="matrix(24.077 0 0 -15.8125 868.77 16369)">
<use href="#hU" fill="#f7c6c6" stroke="none"/>
<use href="#hL" fill="#ffffff" stroke="none"/>
<use href="#hU" fill="none" stroke="#e05a5a" stroke-width="1"/>
<use href="#hL" fill="none" stroke="#e05a5a" stroke-width="1"/>
<g fill="none" stroke-width="1" stroke-dasharray="3,2">
<use href="#hU" stroke="#f0a030" transform="translate(0,-0.3)"/>
<use href="#hL" stroke="#e02828" transform="translate(0,0.2)"/>
<use href="#hA" stroke="#3a78d8" transform="translate(0,0.5)"/>
<use href="#hA" stroke="#30a060" transform="translate(0,-0.4)"/>
<use href="#hU" stroke="#c070e0" transform="translate(0,0.15)"/>
<polyline vector-effect="non-scaling-stroke" stroke="#30a060" points="4.2,983 4.25,992 4.3,984"/>
<polyline vector-effect="non-scaling-stroke" stroke="#f0a030" points="4.2,983 4.25,978.8 4.3,983"/>
<polyline vector-effect="non-scaling-stroke" stroke="#e02828" points="4.2,984 4.25,989.6 4.3,985"/>
<polyline vector-effect="non-scaling-stroke" stroke="#3a78d8" points="13.6,984.4 13.8,983.0 14.0,983.6 14.2,985.4 14.4,984.6 14.6,983.8 14.8,984.2 15.0,984.8 15.2,984.2 15.4,985.6 15.6,987.2 15.8,988.0 16,986.5"/>
<polyline vector-effect="non-scaling-stroke" stroke="#c070e0" points="13.4,984.6 13.6,982.6 13.8,981.4 14.0,982.2 14.2,984.0 14.4,985.6 14.6,984.8 14.8,983.0 15.0,983.8 15.2,985.4 15.4,984.0 15.6,981.0 15.8,978.8 16,977.4"/>
<polyline vector-effect="non-scaling-stroke" stroke="#3a78d8" points="11.2,985.6 11.5,986.8 11.8,987.0 12.0,987.8 12.2,986.6 12.4,987.2 12.6,986.6"/>
<polyline vector-effect="non-scaling-stroke" stroke="#e02828" points="12.6,986 12.9,987.8 13.1,986 13.3,984"/>
<polyline vector-effect="non-scaling-stroke" stroke="#c070e0" points="8.8,987 9.0,986 9.2,986.2 9.4,986.8 9.7,986.4 10.0,984.6 10.3,985.6 10.6,985 10.9,984.4 11.2,985"/>
</g>
<use href="#hA" fill="none" stroke="#000" stroke-width="3"/>
</g>
</g>
<g stroke-width="1.2" stroke-dasharray="3,2">
<line x1="1022" y1="812" x2="1052" y2="812" stroke="#f0a030"/>
<line x1="1022" y1="828" x2="1052" y2="828" stroke="#e02828"/>
<line x1="1022" y1="844" x2="1052" y2="844" stroke="#3a78d8"/>
<line x1="1022" y1="860" x2="1052" y2="860" stroke="#30a060"/>
<line x1="1022" y1="876" x2="1052" y2="876" stroke="#c070e0"/>
</g>
<line x1="1022" y1="892" x2="1055" y2="892" stroke="#000" stroke-width="3"/>
<rect x="1022" y="901" width="30" height="14" fill="#f7c6c6" stroke="#e05a5a" stroke-width="1"/>
<g font-size="13.5">
<text x="1057" y="817">Sample1</text><text x="1057" y="833">Sample2</text><text x="1057" y="849">Sample3</text><text x="1057" y="865">Sample4</text><text x="1057" y="881">Sample5</text><text x="1055" y="897">Average</text><text x="1057" y="913">Consistency band</text>
</g>
<rect x="941" y="683" width="313" height="253" fill="none" stroke="#333" stroke-width="1.3"/>
<g stroke="#333" stroke-width="1.2">
<path d="M936,683H941M936,714.6H941M936,746.3H941M936,777.9H941M936,809.5H941M936,841.1H941M936,872.8H941M936,904.4H941M936,936H941"/>
<path d="M941,936V941M965.1,936V941M989.2,936V941M1013.2,936V941M1037.3,936V941M1061.4,936V941M1085.5,936V941M1109.5,936V941M1133.6,936V941M1157.7,936V941M1181.8,936V941M1205.8,936V941M1229.9,936V941M1254,936V941"/>
</g>
<g font-size="22" text-anchor="end">
<text x="935" y="691">0.992</text><text x="935" y="723">0.990</text><text x="935" y="754">0.988</text><text x="935" y="786">0.986</text><text x="935" y="818">0.984</text><text x="935" y="849">0.982</text><text x="935" y="881">0.980</text><text x="935" y="912">0.978</text><text x="935" y="944">0.976</text>
</g>
<g font-size="22" text-anchor="middle">
<text x="941" y="963">3</text><text x="965.1" y="963">4</text><text x="989.2" y="963">5</text><text x="1013.2" y="963">6</text><text x="1037.3" y="963">7</text><text x="1061.4" y="963">8</text><text x="1085.5" y="963">9</text><text x="1109.5" y="963">10</text><text x="1133.6" y="963">11</text><text x="1157.7" y="963">12</text><text x="1181.8" y="963">13</text><text x="1205.8" y="963">14</text><text x="1229.9" y="963">15</text><text x="1254" y="963">16</text>
<text x="1103" y="980">Wavelength(μm)</text>
<text transform="translate(861,793) rotate(-90)">Emissivity</text>
</g>
</svg>
</body></html>
